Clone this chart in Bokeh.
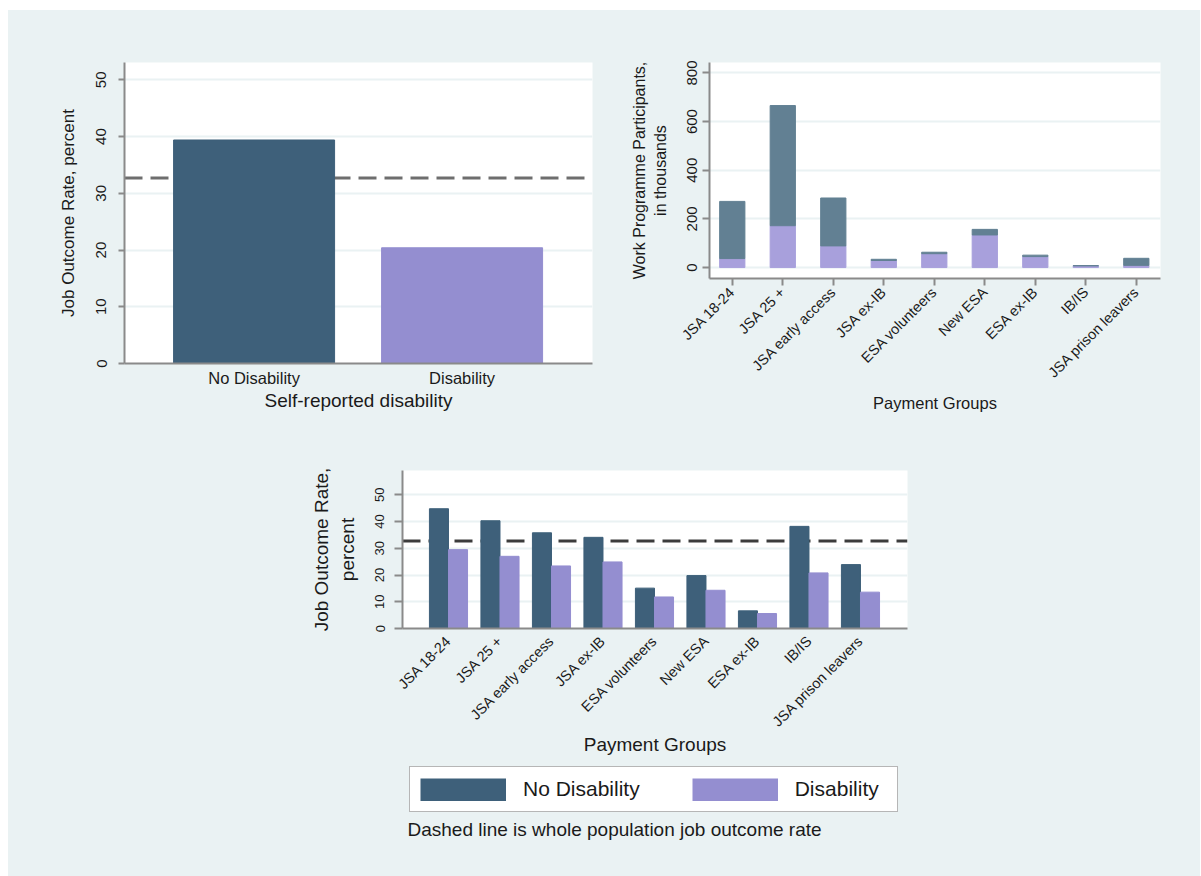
import math
from bokeh.plotting import figure
from bokeh.layouts import column, row, Spacer
from bokeh.models import (FixedTicker, Range1d, Span, Legend, LegendItem, Label,
                          ColumnDataSource)
from bokeh.transform import dodge
from bokeh.embed import file_html
from bokeh.resources import INLINE

# ---- data -------------------------------------------------------------
disability_groups = ["No Disability", "Disability"]
overall_rate = [39.4, 20.4]          # job outcome rate, percent
population_rate = 32.7               # whole population job outcome rate

payment_groups = ["JSA 18-24", "JSA 25 +", "JSA early access", "JSA ex-IB",
                  "ESA volunteers", "New ESA", "ESA ex-IB", "IB/IS",
                  "JSA prison leavers"]
# participants, thousands (stacked: disability at the bottom)
participants_no_dis = [235, 494, 197, 5, 6, 23, 6, 1, 29]
participants_dis = [37, 172, 89, 29, 57, 134, 45, 7, 9]
# job outcome rate by payment group, percent
rate_no_dis = [44.8, 40.3, 35.8, 34.1, 15.1, 19.8, 6.6, 38.2, 23.9]
rate_dis = [29.5, 27.0, 23.4, 24.9, 11.8, 14.3, 5.6, 20.8, 13.6]

rate_ticks = [0, 10, 20, 30, 40, 50]
participant_ticks = [0, 200, 400, 600, 800]

caption = "Dashed line is whole population job outcome rate"

# ---- style ------------------------------------------------------------
BG = "#eaf2f3"
AXIS = "#8a8a8a"
TXT = "#1a1a1a"
FONT = "Liberation Sans"
DARK = "#3e607a"
LAV = "#948ed0"
DARK_B = "#628093"
LAV_B = "#a8a0dc"


def style(p):
    p.background_fill_color = "white"
    p.border_fill_color = BG
    p.outline_line_color = None
    p.xgrid.visible = False
    p.ygrid.grid_line_color = BG
    p.ygrid.grid_line_width = 2
    for ax in p.axis:
        ax.axis_line_color = AXIS
        ax.axis_line_width = 2
        ax.major_tick_line_color = AXIS
        ax.major_tick_line_width = 2
        ax.minor_tick_line_color = None
        ax.major_tick_in = 0
        ax.major_label_text_font = FONT
        ax.axis_label_text_font = FONT
        ax.axis_label_text_font_style = "normal"
        ax.major_label_text_color = TXT
        ax.axis_label_text_color = TXT


def dashed(p, color):
    p.add_layout(Span(location=population_rate, dimension="width",
                      line_color=color, line_width=3, line_dash="18 8",
                      level="underlay"))


# ---- top left: job outcome rate by disability --------------------------
pA = figure(width=592, height=420, output_backend="svg", toolbar_location=None,
            x_range=Range1d(0.377, 2.627), y_range=Range1d(0, 53.06),
            min_border_left=116, min_border_right=8, min_border_top=52,
            min_border_bottom=67)
style(pA)
dashed(pA, "#6e6e6e")
srcA = ColumnDataSource(dict(x=[1, 2], rate=overall_rate, color=[DARK, LAV]))
pA.vbar(x="x", top="rate", width=0.774, source=srcA, fill_color="color",
        line_color="color")
pA.xaxis.ticker = FixedTicker(ticks=[1, 2])
pA.xaxis.major_label_overrides = {i + 1: g for i, g in enumerate(disability_groups)}
pA.xaxis.major_tick_out = 0
pA.xaxis.major_label_standoff = 5
pA.xaxis.major_label_text_font_size = "16.5px"
pA.xaxis.axis_label = "Self-reported disability"
pA.xaxis.axis_label_text_font_size = "19px"
pA.xaxis.axis_label_standoff = 0
pA.yaxis.ticker = FixedTicker(ticks=rate_ticks)
pA.yaxis.major_tick_out = 6
pA.yaxis.major_label_orientation = "vertical"
pA.yaxis.major_label_standoff = 12
pA.yaxis.major_label_text_font_size = "15px"
pA.yaxis.axis_label = "Job Outcome Rate, percent"
pA.yaxis.axis_label_text_font_size = "17px"
pA.yaxis.axis_label_standoff = 16

# ---- top right: participants by payment group --------------------------
xs = list(range(1, len(payment_groups) + 1))
pB = figure(width=600, height=420, output_backend="svg", toolbar_location=None,
            x_range=Range1d(0.549, 9.479), y_range=Range1d(-45, 843),
            min_border_left=109, min_border_right=40, min_border_top=52,
            min_border_bottom=152)
style(pB)
srcB = ColumnDataSource(dict(x=xs, dis=participants_dis, nodis=participants_no_dis))
pB.vbar_stack(["dis", "nodis"], x="x", width=0.5, source=srcB,
              fill_color=[LAV_B, DARK_B], line_color=[LAV_B, DARK_B])
pB.xaxis.ticker = FixedTicker(ticks=xs)
pB.xaxis.major_label_overrides = {i + 1: g for i, g in enumerate(payment_groups)}
pB.xaxis.major_tick_out = 7
pB.xaxis.major_label_orientation = math.pi / 4
pB.xaxis.major_label_standoff = 4
pB.xaxis.major_label_text_font_size = "14.5px"
pB.xaxis.axis_label = "Payment Groups"
pB.xaxis.axis_label_text_font_size = "16.5px"
pB.xaxis.axis_label_standoff = 5
pB.yaxis.ticker = FixedTicker(ticks=participant_ticks)
pB.yaxis.major_tick_out = 7
pB.yaxis.major_label_orientation = "vertical"
pB.yaxis.major_label_standoff = 5
pB.yaxis.major_label_text_font_size = "15px"
pB.yaxis.axis_label = "Work Programme Participants,\nin thousands"
pB.yaxis.axis_label_text_font_size = "16px"
pB.yaxis.axis_label_standoff = 16

# ---- bottom: job outcome rate by payment group -------------------------
pC = figure(width=1192, height=330, output_backend="svg", toolbar_location=None,
            x_range=Range1d(0.107, 9.913), y_range=Range1d(0, 59.1),
            min_border_left=394, min_border_right=293, min_border_top=40,
            min_border_bottom=132)
style(pC)
dashed(pC, "#3c3c3c")
srcC = ColumnDataSource(dict(x=xs, nodis=rate_no_dis, dis=rate_dis))
pC.vbar(x=dodge("x", -0.185), top="nodis", width=0.37, source=srcC,
        fill_color=DARK, line_color=DARK)
pC.vbar(x=dodge("x", 0.185), top="dis", width=0.37, source=srcC,
        fill_color=LAV, line_color=LAV)
pC.xaxis.ticker = FixedTicker(ticks=xs)
pC.xaxis.major_label_overrides = {i + 1: g for i, g in enumerate(payment_groups)}
pC.xaxis.major_tick_out = 0
pC.xaxis.major_label_orientation = math.pi / 4
pC.xaxis.major_label_standoff = 10
pC.xaxis.major_label_text_font_size = "14.5px"
pC.xaxis.axis_label = "Payment Groups"
pC.xaxis.axis_label_text_font_size = "19px"
pC.xaxis.axis_label_standoff = -4
pC.yaxis.ticker = FixedTicker(ticks=rate_ticks)
pC.yaxis.major_tick_out = 8
pC.yaxis.major_label_orientation = "vertical"
pC.yaxis.major_label_standoff = 10
pC.yaxis.major_label_text_font_size = "13px"
pC.yaxis.axis_label = "Job Outcome Rate,\npercent"
pC.yaxis.axis_label_text_font_size = "19px"
pC.yaxis.axis_label_standoff = 15

# ---- key and note below the bottom chart -------------------------------
D_FRAME_W, D_FRAME_H = 505, 116
pD = figure(width=1192, height=D_FRAME_H, output_backend="svg",
            toolbar_location=None, x_axis_type=None, y_axis_type=None,
            x_range=Range1d(0, D_FRAME_W), y_range=Range1d(0, D_FRAME_H),
            min_border_left=394, min_border_right=293, min_border_top=0,
            min_border_bottom=0)
pD.background_fill_color = BG
pD.border_fill_color = BG
pD.outline_line_color = None
pD.grid.visible = False
# key swatches: thick butt-capped lines fill the whole glyph box of the key;
# their renderers hold no drawable points, so nothing shows in the frame
nan = float("nan")
key_src = ColumnDataSource(dict(x=[nan], y=[nan]))
key_nodis = pD.line(x="x", y="y", source=key_src, line_color=DARK,
                    line_width=23, line_cap="butt")
key_dis = pD.line(x="x", y="y", source=key_src, line_color=LAV,
                  line_width=23, line_cap="butt")
legend = Legend(items=[LegendItem(label=disability_groups[0], renderers=[key_nodis]),
                       LegendItem(label=disability_groups[1], renderers=[key_dis])],
                location=(7, 64), orientation="horizontal",
                glyph_width=86, glyph_height=23, label_standoff=17, spacing=52,
                padding=10, margin=0, label_width=92,
                label_text_font=FONT, label_text_font_size="21px",
                label_text_color=TXT,
                border_line_color="#6e6e6e", border_line_width=1.5,
                background_fill_color="white", background_fill_alpha=1)
pD.add_layout(legend, "center")
pD.add_layout(Label(x=5, y=47, text=caption,
                    text_font=FONT, text_font_size="19px", text_color=TXT,
                    text_baseline="alphabetic"))

content = column(row(column(pA), column(pB)), column(pC), column(pD),
                 styles={"background-color": BG})
layout = column(Spacer(width=1201, height=10, styles={"background-color": "white"}),
                row(Spacer(width=8, height=866, styles={"background-color": "white"}),
                    content))

open("out.html", "w").write(file_html(layout, INLINE))
